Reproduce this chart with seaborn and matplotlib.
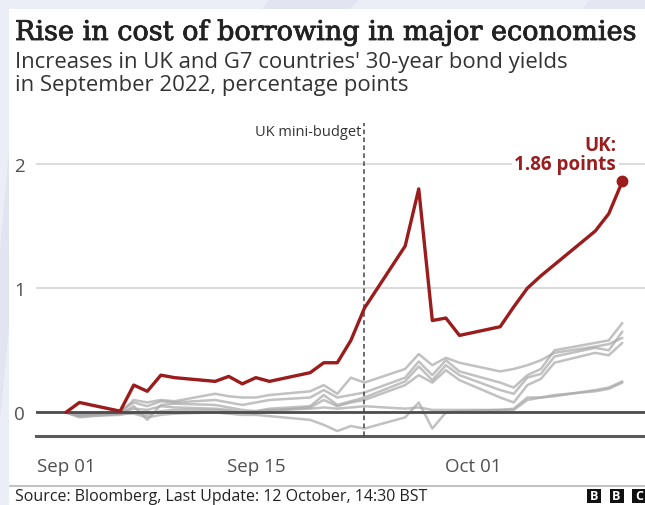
import matplotlib
matplotlib.use("Agg")
import numpy as np
import pandas as pd
import matplotlib.pyplot as plt
import matplotlib.dates as mdates
import matplotlib.patheffects as pe
from matplotlib.patches import Rectangle, Polygon
from matplotlib.lines import Line2D
import seaborn as sns

# Trading days, September - October 2022
dates = ["2022-09-01", "2022-09-02", "2022-09-05", "2022-09-06", "2022-09-07",
         "2022-09-08", "2022-09-09", "2022-09-12", "2022-09-13", "2022-09-14",
         "2022-09-15", "2022-09-16", "2022-09-19", "2022-09-20", "2022-09-21",
         "2022-09-22", "2022-09-23", "2022-09-26", "2022-09-27", "2022-09-28",
         "2022-09-29", "2022-09-30", "2022-10-03", "2022-10-04", "2022-10-05",
         "2022-10-06", "2022-10-07", "2022-10-10", "2022-10-11", "2022-10-12"]

# Change in 30-year yields since 1 September, percentage points
uk = [0.00, 0.08, 0.01, 0.22, 0.17, 0.30, 0.28, 0.25, 0.29, 0.23,
      0.28, 0.25, 0.32, 0.40, 0.40, 0.58, 0.84, 1.34, 1.80, 0.74,
      0.76, 0.62, 0.69, 0.85, 1.00, 1.10, 1.19, 1.46, 1.60, 1.86]

g7_a = [0.00, -0.02, 0.00, 0.10, 0.08, 0.10, 0.09, 0.15, 0.13, 0.12,
        0.12, 0.14, 0.17, 0.22, 0.15, 0.28, 0.24, 0.35, 0.47, 0.38,
        0.44, 0.40, 0.33, 0.35, 0.38, 0.42, 0.48, 0.53, 0.55, 0.60]
g7_b = [0.00, -0.03, 0.01, 0.08, 0.05, 0.09, 0.08, 0.10, 0.08, 0.06,
        0.08, 0.10, 0.12, 0.18, 0.12, 0.14, 0.16, 0.28, 0.41, 0.30,
        0.42, 0.33, 0.24, 0.20, 0.30, 0.35, 0.50, 0.56, 0.58, 0.72]
g7_c = [0.00, -0.04, -0.01, 0.05, -0.06, 0.06, 0.07, 0.06, 0.04, 0.02,
        0.01, 0.03, 0.05, 0.14, 0.06, 0.09, 0.12, 0.25, 0.37, 0.26,
        0.38, 0.30, 0.18, 0.15, 0.28, 0.31, 0.45, 0.52, 0.50, 0.65]
g7_d = [0.00, -0.01, 0.00, 0.03, 0.02, 0.05, 0.04, 0.03, 0.02, 0.00,
        -0.01, 0.01, 0.04, 0.10, 0.05, 0.08, 0.10, 0.22, 0.30, 0.24,
        0.34, 0.26, 0.12, 0.08, 0.22, 0.27, 0.40, 0.48, 0.46, 0.56]
g7_e = [0.00, -0.03, -0.02, 0.00, -0.02, 0.01, 0.02, 0.02, 0.01, 0.00,
        0.01, 0.02, 0.03, 0.04, 0.03, 0.04, 0.05, 0.03, 0.04, 0.02,
        0.02, 0.02, 0.02, 0.02, 0.10, 0.12, 0.13, 0.18, 0.20, 0.25]
g7_f = [0.00, -0.02, -0.01, -0.01, -0.04, -0.02, -0.01, 0.00, -0.01, -0.02,
        -0.02, -0.03, -0.06, -0.10, -0.15, -0.11, -0.13, -0.04, 0.08, -0.13,
        0.00, 0.01, 0.02, 0.03, 0.12, 0.12, 0.14, 0.17, 0.19, 0.24]

x_ticks = ["2022-09-01", "2022-09-15", "2022-10-01"]
y_ticks = [0, 1, 2]
mini_budget = "2022-09-23"

title = "Rise in cost of borrowing in major economies"
subtitle = "Increases in UK and G7 countries' 30-year bond yields\nin September 2022, percentage points"
source = "Source: Bloomberg, Last Update: 12 October, 14:30 BST"

RED = "#9b1c1c"
GREY = "#a9a9a9"
DARK = "#4d4d4d"

sns.set_theme(style="white")
plt.rcParams["font.family"] = ["Open Sans", "DejaVu Sans"]

W, H = 645, 506
fig = plt.figure(figsize=(W / 100, H / 100), dpi=100, facecolor="#eceef7")

# page backdrop shapes and white card (kept beneath the axes)
for pts, col in [([(0, 250), (9, 150), (9, 330), (0, 420)], "#e2e5f1"),
                 ([(270, 0), (360, 0), (350, 10), (262, 10)], "#e2e5f1"),
                 ([(590, 0), (645, 0), (645, 10), (583, 10)], "#e4e7f2")]:
    fig.patches.append(Polygon([(x / W, 1 - y / H) for x, y in pts], closed=True,
                               transform=fig.transFigure, facecolor=col,
                               edgecolor="none", zorder=-3))
fig.patches.append(Rectangle((9 / W, 0), 1, 1 - 10 / H, transform=fig.transFigure,
                             facecolor="white", edgecolor="none", zorder=-2))

# long-form data for seaborn
d = pd.to_datetime(dates)
g7 = pd.DataFrame({"date": np.tile(d, 6),
                   "value": np.concatenate([g7_a, g7_b, g7_c, g7_d, g7_e, g7_f]),
                   "country": np.repeat(["a", "b", "c", "d", "e", "f"], len(d))})
ukdf = pd.DataFrame({"date": d, "value": uk})

y_lo, y_hi = -0.19, 2.35
ax = fig.add_axes([36 / W, (H - 437) / H, 1 - 36 / W, (437 - 121.6) / H])
ax.set_facecolor("none")

sns.lineplot(data=g7, x="date", y="value", units="country", estimator=None,
             color=GREY, alpha=0.72, lw=1.8, ax=ax, zorder=3)
sns.lineplot(data=ukdf, x="date", y="value", color=RED, lw=2.4, ax=ax, zorder=5)
ax.plot(d[-1], uk[-1], "o", color=RED, ms=7.5, zorder=6, clip_on=False)

start = pd.Timestamp("2022-09-01")
ax.set_xlim(start - pd.Timedelta(days=2.2), start + pd.Timedelta(days=42.67))
ax.set_ylim(y_lo, y_hi)

# grid, zero line, axis line
ax.set_yticks(y_ticks)
ax.set_yticklabels([str(v) for v in y_ticks])
ax.yaxis.grid(True, color="#dcdcdc", lw=1.5)
ax.xaxis.grid(False)
ax.axhline(0, color=DARK, lw=2, zorder=4)
for s in ["top", "right", "left"]:
    ax.spines[s].set_visible(False)
ax.spines["bottom"].set_color("#5a5a5a")
ax.spines["bottom"].set_linewidth(2.2)

ax.set_xticks(pd.to_datetime(x_ticks))
ax.xaxis.set_major_formatter(mdates.DateFormatter("%b %d"))
ax.tick_params(axis="x", direction="out", length=8, width=1.3, color="#5a5a5a",
               labelsize=13.5, labelcolor="#505050", pad=7)
ax.tick_params(axis="y", length=0, labelsize=13.5, labelcolor="#505050", pad=8)
ax.set_xlabel("")
ax.set_ylabel("")

# mini-budget marker
mb = pd.Timestamp(mini_budget)
ax.plot([mb, mb], [y_lo, 2.33], color="#444444", lw=1.1, ls=(0, (3, 2.2)),
        zorder=4, clip_on=False)
ax.text(mb - pd.Timedelta(days=0.25), 2.26, "UK mini-budget", ha="right",
        va="center", fontsize=10.5, color="#333333", zorder=7)

# end label
ax.text(d[-1] - pd.Timedelta(days=0.45), 2.08, f"UK:\n{uk[-1]:.2f} points",
        ha="right", va="center", multialignment="right", fontsize=13.5,
        fontweight="bold", color=RED, linespacing=0.95, zorder=7,
        bbox=dict(boxstyle="square,pad=0.15", facecolor="white", edgecolor="none"))

# headings
fig.text(15 / W, 1 - 41 / H, title, family=["DejaVu Serif"], fontsize=19.5,
         color="#222222", va="baseline", ha="left",
         path_effects=[pe.withStroke(linewidth=0.6, foreground="#222222")])
fig.text(15 / W, 1 - 91 / H, subtitle, fontsize=15.9, color="#333333",
         va="baseline", ha="left", linespacing=1.15)

# footer
fig.add_artist(Line2D([10 / W, 1], [1 - 486.7 / H] * 2, transform=fig.transFigure,
                      color="#c4c4c4", lw=1.5))
fig.text(15 / W, 1 - 501 / H, source, fontsize=11.5, color="#222222",
         va="baseline", ha="left")
for i, letter in enumerate("BBC"):
    x0 = 587 + i * 22.5
    fig.patches.append(Rectangle((x0 / W, 1 - 504 / H), 14 / W, 14 / H,
                                 transform=fig.transFigure, facecolor="#111111",
                                 edgecolor="none", zorder=2))
    fig.text((x0 + 7) / W, 1 - 497 / H, letter, fontsize=9, fontweight="bold",
             color="white", ha="center", va="center", zorder=3)

fig.savefig("out.png", dpi=100, facecolor=fig.get_facecolor())
